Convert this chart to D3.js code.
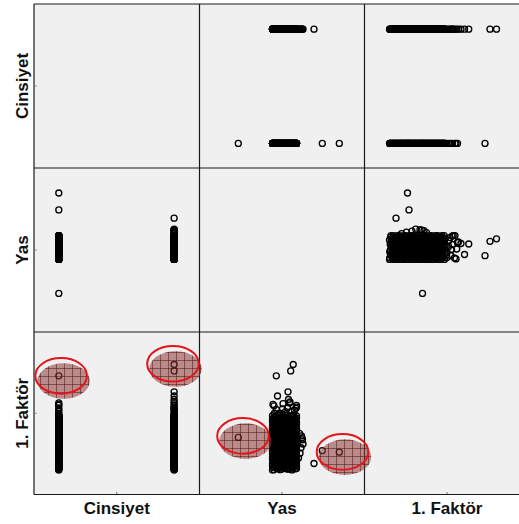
<!DOCTYPE html>
<html><head><meta charset="utf-8">
<script src="https://cdn.jsdelivr.net/npm/d3@7"></script>
<style>html,body{margin:0;padding:0;background:#fff;overflow:hidden}</style>
</head><body><svg id="c" width="519" height="524"></svg>
<script>
// ---------------- data ----------------
const variables = ["Cinsiyet", "Yas", "1. Faktör"];

// one entry per respondent: Cinsiyet, Yas, 1. Faktör
const cinsiyet = [
 1,2,1,2,1,2,1,2,1,2, 1,2,1,2,1,2,1,2,1,2, 1,2,1,2,1,2,1,2,1,2,
 1,2,1,2,1,2,1,2,1,2, 1,2,1,2,1,2,1,2,1,2, 1,2,1,2,1,2,1,2,1,2,
 1,2,1,2,1,2,1,2,1,2, 1,2,1,2,1,2,1,2,1,2, 1,2,1,2,1,2,1,2,1,2,
 1,2,1,2,1,2,1,2,1,2, 1,2,1,2,1,2,1,2,1,2, 1,2,1,2,1,2,1,2,1,2,
 1,2,1,2,1,2,1,2,1,2, 1,2,1,2,1,2,1,2,1,2, 1,2,1,2,1,2,1,2,1,2,
 2,1,2,1,2,1,2,1,2,1, 2,1,2,1,2,1,2,1,2,1, 2,1,2,1,2,1,2,1,2,1,
 2,1,2,1,2,1,2,1,2,1, 2,1,2,1,2,1,2,1,2,1, 2,1,2,1,2,1,2,1,2,1,
 2,1,2,1,2,1,2,1,2,1, 2,1,2,1,2,1,2,1,2,1, 2,1,2,1,2,1,2,1,2,1,
 2,1,2,1,2,1,2,1,2,1, 2,1,2,1,2,1,2,1,2,1, 2,1,2,1,2,1,2,1,2,1,
 2,1,2,1,2,1,2,1,2,1, 2,1,2,1,2,1,2,1,2,1, 2,1,2,1,2,1,2,1,2,1,
 1,2,2,1,2,1,2,1,2,2,1,1,2,2,1,2,2,2,2,
 2,2,2,2,2,2,2,2,
 1,1,1,2,2,2,1
];
const yas = [
 18.6,20.1,21.6,23.1,19.5,21.0,22.5,18.9,20.4,21.9,
 23.4,19.8,21.3,22.8,19.2,20.7,22.2,18.6,20.1,21.6,
 23.1,19.5,21.0,22.5,18.9,20.4,21.9,23.4,19.8,21.3,
 22.8,19.2,20.7,22.2,18.6,20.1,21.6,23.1,19.5,21.0,
 22.5,18.9,20.4,21.9,23.4,19.8,21.3,22.8,19.2,20.7,
 22.2,18.6,20.1,21.6,23.1,19.5,21.0,22.5,18.9,20.4,
 21.9,23.4,19.8,21.3,22.8,19.2,20.7,22.2,18.6,20.1,
 21.6,23.1,19.5,21.0,22.5,18.9,20.4,21.9,23.4,19.8,
 21.3,22.8,19.2,20.7,22.2,18.6,20.1,21.6,23.1,19.5,
 21.0,22.5,18.9,20.4,21.9,23.4,19.8,21.3,22.8,19.2,
 20.7,22.2,18.6,20.1,21.6,23.1,19.5,21.0,22.5,18.9,
 20.4,21.9,23.4,19.8,21.3,22.8,19.2,20.7,22.2,18.6,
 20.1,21.6,23.1,19.5,21.0,22.5,18.9,20.4,21.9,23.4,
 19.8,21.3,22.8,19.2,20.7,22.2,18.6,20.1,21.6,23.1,
 19.5,21.0,22.5,18.9,20.4,21.9,23.4,19.8,21.3,22.8,
 22.5,18.9,20.4,21.9,23.4,19.8,21.3,22.8,19.2,20.7,
 22.2,18.6,20.1,21.6,23.1,19.5,21.0,22.5,18.9,20.4,
 21.9,23.4,19.8,21.3,22.8,19.2,20.7,22.2,18.6,20.1,
 21.6,23.1,19.5,21.0,22.5,18.9,20.4,21.9,23.4,19.8,
 21.3,22.8,19.2,20.7,22.2,18.6,20.1,21.6,23.1,19.5,
 21.0,22.5,18.9,20.4,21.9,23.4,19.8,21.3,22.8,19.2,
 20.7,22.2,18.6,20.1,21.6,23.1,19.5,21.0,22.5,18.9,
 20.4,21.9,23.4,19.8,21.3,22.8,19.2,20.7,22.2,18.6,
 20.1,21.6,23.1,19.5,21.0,22.5,18.9,20.4,21.9,23.4,
 19.8,21.3,22.8,19.2,20.7,22.2,18.6,20.1,21.6,23.1,
 19.5,21.0,22.5,18.9,20.4,21.9,23.4,19.8,21.3,22.8,
 19.2,20.7,22.2,18.6,20.1,21.6,23.1,19.5,21.0,22.5,
 18.9,20.4,21.9,23.4,19.8,21.3,22.8,19.2,20.7,22.2,
 18.6,20.1,21.6,23.1,19.5,21.0,22.5,18.9,20.4,21.9,
 23.4,19.8,21.3,22.8,19.2,20.7,22.2,18.6,20.1,21.6,
 20.0,19.0,21.2,22.4,23.0,19.4,20.6,21.6,23.3,23.4,18.7,23.4,20.7,18.9,22.0,22.1,21.8,19.6,21.7,
 24.0,24.4,24.5,24.6,24.7,24.3,24.1,23.8,
 11.76,28.56,31.96,26.9,22.74,22.24,19.36
];
const faktor = [
 -2.00,-1.99,-1.97,-1.96,-1.94,-1.93,-1.91,-1.90,-1.88,-1.87,
 -1.85,-1.84,-1.82,-1.81,-1.79,-1.78,-1.76,-1.75,-1.73,-1.72,
 -1.70,-1.69,-1.67,-1.66,-1.64,-1.63,-1.61,-1.60,-1.58,-1.57,
 -1.55,-1.54,-1.52,-1.51,-1.49,-1.48,-1.46,-1.45,-1.43,-1.42,
 -1.40,-1.39,-1.37,-1.36,-1.34,-1.33,-1.31,-1.30,-1.28,-1.27,
 -1.25,-1.24,-1.22,-1.21,-1.19,-1.18,-1.16,-1.15,-1.13,-1.12,
 -1.10,-1.09,-1.07,-1.06,-1.04,-1.03,-1.01,-1.00,-0.98,-0.97,
 -0.95,-0.94,-0.92,-0.91,-0.89,-0.88,-0.86,-0.85,-0.83,-0.82,
 -0.80,-0.79,-0.77,-0.76,-0.74,-0.73,-0.71,-0.70,-0.68,-0.67,
 -0.65,-0.64,-0.62,-0.61,-0.59,-0.58,-0.56,-0.55,-0.53,-0.52,
 -0.50,-0.49,-0.47,-0.46,-0.44,-0.43,-0.41,-0.40,-0.38,-0.37,
 -0.35,-0.34,-0.32,-0.31,-0.29,-0.28,-0.26,-0.25,-0.23,-0.22,
 -0.20,-0.19,-0.17,-0.16,-0.14,-0.13,-0.11,-0.10,-0.08,-0.07,
 -0.05,-0.04,-0.02,-0.01,0.01,0.02,0.04,0.05,0.07,0.08,
 0.10,0.11,0.13,0.14,0.16,0.17,0.19,0.20,0.22,0.23,
 -2.00,-1.99,-1.97,-1.96,-1.94,-1.93,-1.91,-1.90,-1.88,-1.87,
 -1.85,-1.84,-1.82,-1.81,-1.79,-1.78,-1.76,-1.75,-1.73,-1.72,
 -1.70,-1.69,-1.67,-1.66,-1.64,-1.63,-1.61,-1.60,-1.58,-1.57,
 -1.55,-1.54,-1.52,-1.51,-1.49,-1.48,-1.46,-1.45,-1.43,-1.42,
 -1.40,-1.39,-1.37,-1.36,-1.34,-1.33,-1.31,-1.30,-1.28,-1.27,
 -1.25,-1.24,-1.22,-1.21,-1.19,-1.18,-1.16,-1.15,-1.13,-1.12,
 -1.10,-1.09,-1.07,-1.06,-1.04,-1.03,-1.01,-1.00,-0.98,-0.97,
 -0.95,-0.94,-0.92,-0.91,-0.89,-0.88,-0.86,-0.85,-0.83,-0.82,
 -0.80,-0.79,-0.77,-0.76,-0.74,-0.73,-0.71,-0.70,-0.68,-0.67,
 -0.65,-0.64,-0.62,-0.61,-0.59,-0.58,-0.56,-0.55,-0.53,-0.52,
 -0.50,-0.49,-0.47,-0.46,-0.44,-0.43,-0.41,-0.40,-0.38,-0.37,
 -0.35,-0.34,-0.32,-0.31,-0.29,-0.28,-0.26,-0.25,-0.23,-0.22,
 -0.20,-0.19,-0.17,-0.16,-0.14,-0.13,-0.11,-0.10,-0.08,-0.07,
 -0.05,-0.04,-0.02,-0.01,0.01,0.02,0.04,0.05,0.07,0.08,
 0.10,0.11,0.13,0.14,0.16,0.17,0.19,0.20,0.22,0.23,
 0.30,0.30,0.36,0.38,0.42,0.45,0.48,0.52,0.50,0.55,0.66,0.62,0.69,0.60,0.72,0.76,0.86,1.00,1.17,
 -0.52,-0.62,-0.70,-0.78,-0.95,-1.10,-1.32,-1.52,
 -0.68,-1.22,-1.28,-1.74,2.28,2.02,1.82
];

// highlighted (circled) points; y variable is 1. Faktör
const markXVar = ["Cinsiyet", "Cinsiyet", "Yas", "Yas"];
const markX = [1.02, 1.99, 12.7, 32.6];
const markY = [1.82, 2.31, -0.62, -1.27];

// ---------------- layout ----------------
const domains = {"Cinsiyet": [0.785, 2.22], "Yas": [4, 37], "1. Faktör": [-3, 3.6]};
const colEdges = [34, 199.5, 364.5, 529.5];
const rowEdges = [4, 168, 332, 494.5];
const N = Math.min(cinsiyet.length, yas.length, faktor.length);
console.log(cinsiyet.length, yas.length, faktor.length);
const records = d3.range(N).map(i => ({"Cinsiyet": cinsiyet[i], "Yas": yas[i], "1. Faktör": faktor[i]}));

const svg = d3.select("#c");
const defs = svg.append("defs");
const pat = defs.append("pattern").attr("id", "hatch").attr("patternUnits", "userSpaceOnUse")
  .attr("width", 8).attr("height", 8);
pat.append("rect").attr("width", 8).attr("height", 8).attr("fill", "#8c3939").attr("fill-opacity", 0.55);
pat.append("path").attr("d", "M0 0.5H8M0.5 0V8").attr("stroke", "#4a0e0e").attr("stroke-opacity", 0.5).attr("stroke-width", 1).attr("fill", "none");

const xScale = (v, j) => d3.scaleLinear().domain(domains[v]).range([colEdges[j], colEdges[j + 1]]);
const yScale = (v, i) => d3.scaleLinear().domain(domains[v]).range([rowEdges[i + 1], rowEdges[i]]);

// backgrounds
for (let i = 0; i < 3; i++) for (let j = 0; j < 3; j++) {
  svg.append("rect").attr("x", colEdges[j]).attr("y", rowEdges[i])
    .attr("width", colEdges[j + 1] - colEdges[j]).attr("height", rowEdges[i + 1] - rowEdges[i])
    .attr("fill", "#f0f0f0");
}

// points
for (let i = 0; i < 3; i++) for (let j = 0; j < 3; j++) {
  if (i === j) continue;
  const xv = variables[j], yv = variables[i];
  const x = xScale(xv, j), y = yScale(yv, i);
  const clipId = "clip" + i + j;
  defs.append("clipPath").attr("id", clipId).append("rect")
    .attr("x", colEdges[j]).attr("y", rowEdges[i])
    .attr("width", colEdges[j + 1] - colEdges[j]).attr("height", rowEdges[i + 1] - rowEdges[i]);
  svg.append("g").attr("clip-path", `url(#${clipId})`)
    .selectAll("circle").data(records).join("circle")
    .attr("cx", d => x(d[xv])).attr("cy", d => y(d[yv])).attr("r", 3)
    .attr("fill", "none").attr("stroke", "#000").attr("stroke-width", 1.35);
}

// grid lines
const grid = svg.append("g").attr("stroke", "#1a1a1a").attr("stroke-width", 1.2);
colEdges.forEach(cx => grid.append("line").attr("x1", cx).attr("x2", cx).attr("y1", rowEdges[0]).attr("y2", rowEdges[3]));
rowEdges.forEach(cy => grid.append("line").attr("x1", colEdges[0]).attr("x2", colEdges[3]).attr("y1", cy).attr("y2", cy));

// small ticks at middle of each outer cell side
const ticks = svg.append("g").attr("stroke", "#777").attr("stroke-width", 1);
for (let j = 0; j < 3; j++) {
  const mx = (colEdges[j] + colEdges[j + 1]) / 2;
  ticks.append("line").attr("x1", mx).attr("x2", mx).attr("y1", rowEdges[3] - 0.5).attr("y2", rowEdges[3] - 2.5);
}
for (let i = 0; i < 3; i++) {
  const my = (rowEdges[i] + rowEdges[i + 1]) / 2;
  ticks.append("line").attr("x1", colEdges[0] + 0.5).attr("x2", colEdges[0] + 2.5).attr("y1", my).attr("y2", my);
}

// highlight ellipses
markXVar.forEach((xv, k) => {
  const j = variables.indexOf(xv), i = 2;
  const x = xScale(xv, j), y = yScale("1. Faktör", i);
  const cx = x(markX[k]), cy = y(markY[k]);
  svg.append("ellipse").attr("cx", cx + 2.5).attr("cy", cy + 5.2).attr("rx", 26.2).attr("ry", 17.8)
    .attr("fill", "url(#hatch)");
  svg.append("ellipse").attr("cx", cx).attr("cy", cy).attr("rx", 25.8).attr("ry", 17.8)
    .attr("fill", "none").attr("stroke", "#e3151a").attr("stroke-width", 2);
});

// labels
const font = "'Liberation Sans', Arial, Helvetica, sans-serif";
variables.forEach((v, j) => {
  svg.append("text").attr("x", (colEdges[j] + colEdges[j + 1]) / 2).attr("y", 514)
    .attr("text-anchor", "middle").attr("font-family", font).attr("font-weight", "bold")
    .attr("font-size", 17).attr("fill", "#111").text(v);
});
variables.forEach((v, i) => {
  const my = (rowEdges[i] + rowEdges[i + 1]) / 2;
  svg.append("text").attr("transform", `translate(27.5,${my}) rotate(-90)`)
    .attr("text-anchor", "middle").attr("font-family", font).attr("font-weight", "bold")
    .attr("font-size", 17).attr("fill", "#111").text(v);
});
</script></body></html>
